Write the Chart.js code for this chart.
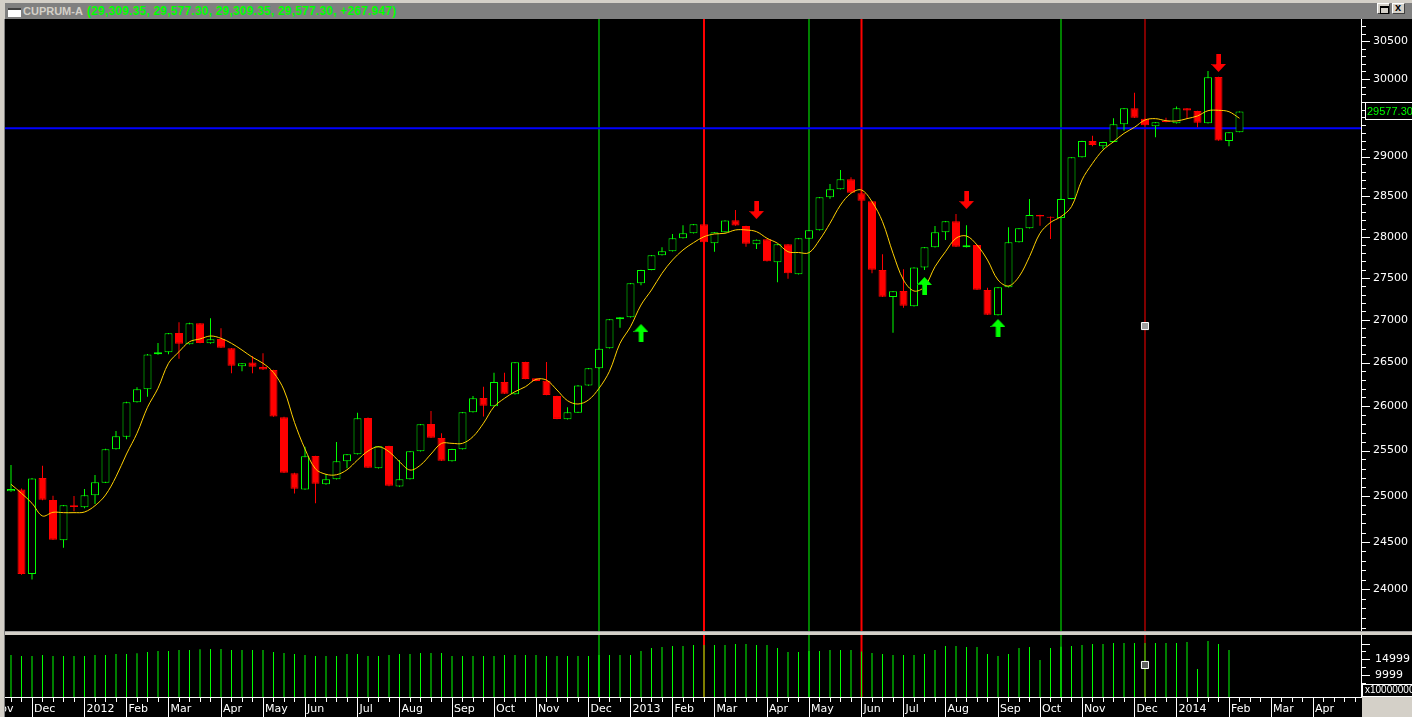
<!DOCTYPE html>
<html>
<head>
<meta charset="utf-8">
<script src="https://cdn.jsdelivr.net/npm/chart.js@4.4.1/dist/chart.umd.min.js"></script>
<style>
html,body{margin:0;padding:0;width:1412px;height:717px;overflow:hidden;background:#d4d0c8;font-family:"DejaVu Sans",sans-serif;}
#titlebar{position:absolute;left:5px;top:3px;width:1407px;height:16px;background:#808080;}
#icon{position:absolute;left:3px;top:5px;width:13px;height:9px;background:#fff;border-top:2px solid #404040;box-sizing:border-box;}
#tname{position:absolute;left:18px;top:1px;font:bold 11px "Liberation Sans";color:#d4d0c8;line-height:15px;}
#tvals{position:absolute;left:82px;top:0px;font:bold 12px "Liberation Sans";color:#00ff00;line-height:16px;letter-spacing:0.2px;}
.btn{position:absolute;top:3px;width:13px;height:11px;background:#d4d0c8;box-sizing:border-box;border-top:1px solid #fff;border-left:1px solid #fff;border-right:1px solid #404040;border-bottom:1px solid #404040;}
#bmax{left:1377px;}
#bclose{left:1392px;}
#bmax div{position:absolute;left:2px;top:2px;width:7px;height:5px;border:1px solid #000;border-top-width:2px;box-sizing:content-box;}
#bclose span{position:absolute;left:2px;top:-3px;font:bold 11px "Liberation Sans";color:#000;}
#mainWrap{position:absolute;left:0;top:19px;width:1412px;height:612px;background:#000;}
#divider{position:absolute;left:0;top:631px;width:1412px;height:4px;background:#d4d0c8;border-top:1px solid #a0a0a0;box-sizing:border-box;}
#volWrap{position:absolute;left:0;top:635px;width:1412px;height:82px;background:#000;}
#leftStrip{position:absolute;left:0;top:19px;width:5px;height:698px;background:#d4d0c8;border-right:1px solid #808080;box-sizing:border-box;z-index:5;}
#corner{position:absolute;left:1362px;top:697px;width:50px;height:20px;background:#d4d0c8;z-index:5;}
canvas{position:absolute;left:0;top:0;}
</style>
</head>
<body>
<div id="titlebar">
  <div id="icon"></div>
  <div id="tname">CUPRUM-A</div>
  <div id="tvals">(29,309.35, 29,577.30, 29,309.35, 29,577.30, +267.947)</div>
</div>
<div class="btn" id="bmax"><div></div></div>
<div class="btn" id="bclose"><span>x</span></div>
<div id="mainWrap"><canvas id="main" width="1412" height="612"></canvas></div>
<div id="divider"></div>
<div id="volWrap"><canvas id="vol" width="1412" height="82"></canvas></div>
<div id="leftStrip"></div>
<div id="corner"></div>
<script>
// ---------------- DATA ----------------
const opens = [25050,25070,24160,25195,24954,24518,24896,24874,25005,25143,
25514,25655,26044,26192,26596,26620,26845,26713,26959,26724,
26775,26666,26457,26501,26449,26414,25875,25248,25070,25439,
25126,25181,25380,25458,25866,25302,25550,25103,25181,25491,
25798,25640,25380,25514,25930,26093,25998,26275,26135,26507,
26318,26290,26116,25851,25926,26237,26433,26666,27006,27030,
27435,27595,27773,27822,27981,28042,28153,27920,28055,28203,
28132,27907,27969,27688,27907,27543,27976,28079,28487,28587,
28712,28537,28437,27595,27272,27343,27160,27627,27871,28055,
28190,27871,27899,27355,27053,27387,27932,28104,28266,28245,
28229,28466,28989,29197,29129,29185,29412,29619,29484,29386,
29458,29424,29619,29584,29424,30026,29197,29309.35];
const highs = [25340,25080,25195,25330,25000,24900,24997,25074,25228,25520,
25718,26050,26215,26600,26728,26845,26971,26965,26962,27018,
26900,26670,26495,26576,26607,26418,25880,25252,25543,25442,
25238,25595,25462,25926,25870,25550,25553,25394,25495,25798,
25945,25693,25520,25934,26115,26222,26383,26383,26507,26510,
26320,26507,26119,25987,26240,26437,26665,27010,27033,27438,
27598,27776,27871,28034,28141,28157,28157,28058,28201,28329,
28135,27967,27972,27910,27910,27984,28082,28490,28654,28829,
28737,28540,28440,27786,27343,27603,27630,27874,28132,28193,
28280,28141,27902,27383,27390,28116,28107,28466,28269,28248,
28469,28992,29200,29265,29188,29489,29622,29821,29487,29440,
29497,29640,29622,29587,30105,30030,29312,29577.30];
const lows = [25045,24150,24100,24950,24520,24439,24831,24863,24910,25140,
25510,25625,26040,26108,26590,26596,26545,26710,26725,26720,
26670,26376,26399,26376,26415,25878,25250,25025,25065,24918,
25122,25178,25302,25455,25305,25300,25105,25100,25178,25488,
25640,25382,25377,25511,25927,25881,25995,26139,26132,26307,
26284,26124,25852,25848,25923,26234,26430,26663,26907,27027,
27411,27592,27770,27819,27978,28039,27928,27818,28052,28134,
27878,27850,27697,27447,27490,27540,27973,28076,28470,28584,
28541,28442,27555,27272,26848,27144,27157,27595,27868,27960,
27875,27868,27356,27058,27050,27384,27929,28101,28136,27972,
28226,28463,28986,29129,29096,29182,29330,29494,29396,29244,
29438,29421,29484,29373,29421,29200,29129,29309.35];
const closes = [25075,24160,25190,24957,24524,24896,24877,25005,25148,25514,
25659,26044,26192,26595,26620,26841,26720,26959,26728,26771,
26673,26464,26492,26452,26420,25881,25253,25077,25435,25132,
25181,25380,25458,25862,25309,25547,25110,25181,25491,25794,
25643,25386,25517,25930,26089,26005,26275,26142,26503,26310,
26287,26127,25855,25930,26237,26433,26661,27006,27030,27435,
27595,27773,27822,27981,28042,28153,27932,28055,28198,28137,
27915,27964,27700,27907,27555,27981,28079,28487,28587,28712,
28544,28445,27599,27275,27340,27168,27627,27871,28055,28190,
27878,27896,27359,27061,27387,27932,28104,28266,28249,28232,
28466,28989,29197,29146,29185,29412,29619,29497,29399,29437,
29441,29619,29588,29432,30022,29205,29309.35,29577.30];
const maValues = [25126,25027,24918,24780,24820,24816,24816,24823,24892,25008,
25209,25461,25693,25987,26204,26492,26626,26743,26775,26810,
26783,26724,26646,26561,26492,26385,26184,25815,25517,25296,
25236,25231,25286,25394,25494,25542,25487,25375,25283,25338,
25461,25580,25580,25580,25655,25806,25993,26089,26165,26222,
26306,26298,26184,26062,26024,26070,26203,26400,26724,26919,
27176,27355,27555,27716,27838,27927,28000,28034,28042,28083,
28083,28062,27981,27920,27817,27807,27805,27960,28165,28391,
28537,28578,28432,28185,27798,27475,27343,27394,27635,27817,
27981,28009,27899,27716,27475,27403,27515,27757,28042,28175,
28247,28371,28704,28913,29082,29188,29295,29373,29467,29484,
29458,29454,29484,29519,29587,29592,29574,29489];
const volumes = [16370,16050,16050,16370,16050,16050,16050,16050,16370,16370,
16690,16690,16910,17330,17640,17640,17960,17960,18180,18280,
18280,17960,17960,17960,17960,17330,17010,16690,16370,16050,
16050,16050,16690,16690,16050,16050,16370,16690,16690,17010,
17010,17010,16050,16050,16050,16050,16050,16370,16370,16370,
16370,16050,16050,16050,16050,16050,16370,16370,16370,16370,
17640,18600,18920,19240,19240,19550,19550,19550,19550,19870,
19870,19550,19550,18600,17330,17330,17640,17640,17960,17960,
17960,17500,17010,16690,16370,16370,16370,16690,17960,19240,
19240,18920,18920,16690,16050,16690,18600,18920,14780,18600,
19000,19240,19550,19870,19870,20190,20190,20190,20190,20190,
20190,20190,20510,11910,20830,19870,17960,null];

const monthIndex  = [-2, 2, 7, 11, 15, 20, 24, 28, 33, 37, 42, 46, 50, 55, 59, 63, 67, 72, 76, 81, 85, 89, 94, 98, 102, 107, 111, 116, 120, 124];
const monthLabels = ['Nov','Dec','2012','Feb','Mar','Apr','May','Jun','Jul','Aug','Sep','Oct','Nov','Dec','2013','Feb','Mar','Apr','May','Jun','Jul','Aug','Sep','Oct','Nov','Dec','2014','Feb','Mar','Apr'];

const greenMarkers = [56, 76, 100];
const redMarkers = [66, 81];
const upArrowIdx = [60, 87, 94];
const upArrowPrice = [26845, 27403, 26904];
const downArrowIdx = [71, 91, 115];
const downArrowPrice = [28329, 28453, 30211];
const hLinePrice = 29360;
const cursorIdx = 108, cursorPrice = 26927, cursorVolume = 13184;

const priceMajorTicks = [24000,24500,25000,25500,26000,26500,27000,27500,28000,28500,29000,29500,30000,30500];
const priceMinorStep = 100;
const volTicks = [7499, 9999, 12499, 14999, 17499, 19999];
const volLabelled = [9999, 14999];
const volMajor = [9999, 14999, 19999];

// axis ranges
const xMin = -0.5714, xMax = 128.667;
const yMin = 23564, yMax = 30798;
const vMin = 2992, vMax = 22739;

// ---------------- helpers ----------------
Chart.defaults.font.family = '"DejaVu Sans"';
const idx = opens.map((_, i) => i);
const isUp = idx.map(i => closes[i] >= opens[i]);
const GREEN = '#00ff00', RED = '#ff0000';

function makeArrow(up, color, shade) {
  const c = document.createElement('canvas');
  c.width = 15; c.height = 18;
  const g = c.getContext('2d');
  g.fillStyle = color;
  if (up) {
    g.beginPath(); g.moveTo(7.5, 0); g.lineTo(15, 8); g.lineTo(0, 8); g.closePath(); g.fill();
    g.fillRect(5, 8, 5, 10);
    g.fillStyle = shade; g.fillRect(5, 8, 1, 10); g.fillRect(0, 7, 5, 1);
  } else {
    g.fillRect(5, 0, 5, 10);
    g.beginPath(); g.moveTo(0, 10); g.lineTo(15, 10); g.lineTo(7.5, 18); g.closePath(); g.fill();
    g.fillStyle = shade; g.fillRect(5, 0, 1, 10); g.fillRect(0, 10, 5, 1);
  }
  return c;
}
const upImg = makeArrow(true, '#00ff00', '#00b000');
const downImg = makeArrow(false, '#ff0000', '#b00000');

const priceTicks = [];
for (let v = 23600; v <= 30700; v += priceMinorStep) priceTicks.push(v);

// ---------------- main chart ----------------
const mainDecor = {
  id: 'mainDecor',
  afterDraw(chart) {
    const {ctx, chartArea: a} = chart;
    const y = chart.scales.y;
    ctx.save();
    ctx.fillStyle = '#fff';
    ctx.fillRect(a.right - 1, a.top, 1, a.bottom - a.top);
    for (const t of y.ticks) {
      const py = Math.round(y.getPixelForValue(t.value));
      const major = priceMajorTicks.includes(t.value);
      ctx.fillRect(a.right - 1, py, major ? 9 : 5, 1);
    }
    const last = closes[closes.length - 1];
    const py = Math.round(y.getPixelForValue(last));
    ctx.fillStyle = '#000';
    ctx.fillRect(a.right + 3, py - 8, 60, 17);
    ctx.strokeStyle = '#fff'; ctx.lineWidth = 1;
    ctx.strokeRect(a.right + 3.5, py - 8.5, 60, 17);
    ctx.fillStyle = '#00ff00';
    ctx.font = '11px "Liberation Sans"';
    ctx.textBaseline = 'middle'; ctx.textAlign = 'left';
    ctx.fillText(last.toFixed(2), a.right + 5, py + 0.5);
    ctx.restore();
  }
};

new Chart(document.getElementById('main'), {
  type: 'bar',
  data: {
    datasets: [
      {type: 'bar', data: greenMarkers.map(i => ({x: i, y: [yMin, yMax]})), backgroundColor: GREEN, barThickness: 1, grouped: false, inflateAmount: 0, order: 10},
      {type: 'bar', data: redMarkers.map(i => ({x: i, y: [yMin, yMax]})), backgroundColor: RED, barThickness: 2, grouped: false, inflateAmount: 0, order: 10},
      {type: 'bar', data: [{x: cursorIdx, y: [yMin, yMax]}], backgroundColor: RED, barThickness: 1, grouped: false, inflateAmount: 0, order: 10},
      {type: 'line', data: [{x: xMin, y: hLinePrice}, {x: xMax, y: hLinePrice}], borderColor: '#0000ff', borderWidth: 2, pointRadius: 0, order: 9},
      {type: 'bar', data: idx.map(i => ({x: i, y: [lows[i], highs[i]]})), backgroundColor: idx.map(i => isUp[i] ? GREEN : RED), barThickness: 1, grouped: false, inflateAmount: 0, order: 6},
      {type: 'bar', data: idx.map(i => ({x: i, y: [Math.min(opens[i], closes[i]), Math.max(opens[i], closes[i])]})),
        backgroundColor: idx.map(i => isUp[i] ? '#000' : RED), borderColor: idx.map(i => isUp[i] ? GREEN : RED),
        borderWidth: 1, borderSkipped: false, barThickness: 8, grouped: false, inflateAmount: 0, order: 5},
      {type: 'line', data: idx.map(i => ({x: i, y: maValues[i]})), borderColor: '#ffd000', borderWidth: 1, pointRadius: 0, tension: 0.35, order: 4},
      {type: 'line', data: upArrowIdx.map((i, k) => ({x: i, y: upArrowPrice[k]})), showLine: false, pointStyle: upImg, pointRadius: 9, order: 2},
      {type: 'line', data: downArrowIdx.map((i, k) => ({x: i, y: downArrowPrice[k]})), showLine: false, pointStyle: downImg, pointRadius: 9, order: 2},
      {type: 'line', data: [{x: cursorIdx, y: cursorPrice}], showLine: false, pointStyle: 'rect', pointRadius: 5, pointBackgroundColor: '#a0a0a0', pointBorderColor: '#ffffff', pointBorderWidth: 1, order: 1}
    ]
  },
  options: {
    responsive: false, animation: false, events: [],
    layout: {autoPadding: false, padding: {left: 5, right: 0, top: 0, bottom: 0}},
    plugins: {legend: {display: false}, tooltip: {enabled: false}},
    scales: {
      x: {type: 'linear', display: false, min: xMin, max: xMax, offset: false, grid: {offset: false, display: false}},
      y: {
        type: 'logarithmic', position: 'right', min: yMin, max: yMax, bounds: 'data',
        afterBuildTicks: s => { s.ticks = priceTicks.map(v => ({value: v})); },
        afterFit: s => { s.width = 50; s.paddingTop = 0; s.paddingBottom = 0; },
        grid: {display: false, drawTicks: false},
        border: {display: false},
        ticks: {autoSkip: false, color: '#ffffff', padding: 11, font: {family: '"DejaVu Sans"', size: 11},
          callback: v => priceMajorTicks.includes(v) ? String(v) : ''}
      }
    }
  },
  plugins: [mainDecor]
});

// ---------------- volume chart ----------------
const volDecor = {
  id: 'volDecor',
  afterDraw(chart) {
    const {ctx, chartArea: a} = chart;
    const x = chart.scales.x, y = chart.scales.y;
    ctx.save();
    ctx.fillStyle = '#fff';
    ctx.fillRect(a.right - 1, a.top, 1, a.bottom - a.top + 1);
    for (const v of volTicks) {
      const py = Math.round(y.getPixelForValue(v));
      ctx.fillRect(a.right - 1, py, volMajor.includes(v) ? 9 : 5, 1);
    }
    ctx.fillRect(a.left, a.bottom, a.right - a.left, 1);
    for (let i = Math.ceil(xMin); i <= Math.floor(xMax); i++) {
      const px = Math.round(x.getPixelForValue(i));
      ctx.fillRect(px, a.bottom, 1, 5);
    }
    for (const i of monthIndex) {
      const px = Math.round(x.getPixelForValue(i));
      if (px >= a.left && px <= a.right) ctx.fillRect(px, a.bottom, 1, chart.height - a.bottom);
    }
    // unit box
    ctx.fillStyle = '#000';
    ctx.fillRect(a.right + 1, 49, 60, 12);
    ctx.strokeStyle = '#fff'; ctx.lineWidth = 1;
    ctx.strokeRect(a.right + 0.5, 49.5, 60, 12);
    ctx.fillStyle = '#fff';
    ctx.font = '10px "Liberation Sans"';
    ctx.textBaseline = 'middle'; ctx.textAlign = 'left';
    ctx.fillText('x100000000', a.right + 3, 55.5);
    ctx.restore();
  }
};

new Chart(document.getElementById('vol'), {
  type: 'bar',
  data: {
    datasets: [
      {type: 'bar', data: greenMarkers.map(i => ({x: i, y: [vMin, vMax]})), backgroundColor: GREEN, barThickness: 1, grouped: false, inflateAmount: 0, order: 10},
      {type: 'bar', data: redMarkers.map(i => ({x: i, y: [vMin, vMax]})), backgroundColor: RED, barThickness: 2, grouped: false, inflateAmount: 0, order: 10},
      {type: 'bar', data: [{x: cursorIdx, y: [vMin, vMax]}], backgroundColor: RED, barThickness: 1, grouped: false, inflateAmount: 0, order: 10},
      {type: 'bar', data: idx.map(i => ({x: i, y: volumes[i]})), backgroundColor: GREEN, barThickness: 1, grouped: false, inflateAmount: 0, order: 5},
      {type: 'line', data: [{x: cursorIdx, y: cursorVolume}], showLine: false, pointStyle: 'rect', pointRadius: 5, pointBackgroundColor: '#606060', pointBorderColor: '#ffffff', pointBorderWidth: 1, order: 1}
    ]
  },
  options: {
    responsive: false, animation: false, events: [],
    layout: {autoPadding: false, padding: {left: 5, right: 0, top: 0, bottom: 0}},
    plugins: {legend: {display: false}, tooltip: {enabled: false}},
    scales: {
      x: {
        type: 'linear', position: 'bottom', min: xMin, max: xMax, offset: false, bounds: 'data',
        afterBuildTicks: s => { const t = []; for (let i = -3; i <= 128; i++) t.push({value: i}); s.ticks = t; },
        afterFit: s => { s.height = 20; s.paddingLeft = 0; s.paddingRight = 0; },
        grid: {display: false, drawTicks: false, offset: false},
        border: {display: false},
        ticks: {autoSkip: false, maxRotation: 0, minRotation: 0, align: 'start', labelOffset: 2, padding: 6,
          color: '#ffffff', font: {family: '"DejaVu Sans"', size: 11},
          callback: v => { const k = monthIndex.indexOf(v); return k >= 0 ? monthLabels[k] : ''; }}
      },
      y: {
        type: 'linear', position: 'right', min: vMin, max: vMax, bounds: 'data', beginAtZero: false,
        afterBuildTicks: s => { s.ticks = volLabelled.map(v => ({value: v})); },
        afterFit: s => { s.width = 50; s.paddingTop = 0; s.paddingBottom = 0; },
        grid: {display: false, drawTicks: false},
        border: {display: false},
        ticks: {autoSkip: false, color: '#ffffff', padding: 13, font: {family: '"DejaVu Sans"', size: 11},
          callback: v => String(v)}
      }
    }
  },
  plugins: [volDecor]
});
</script>
</body>
</html>
